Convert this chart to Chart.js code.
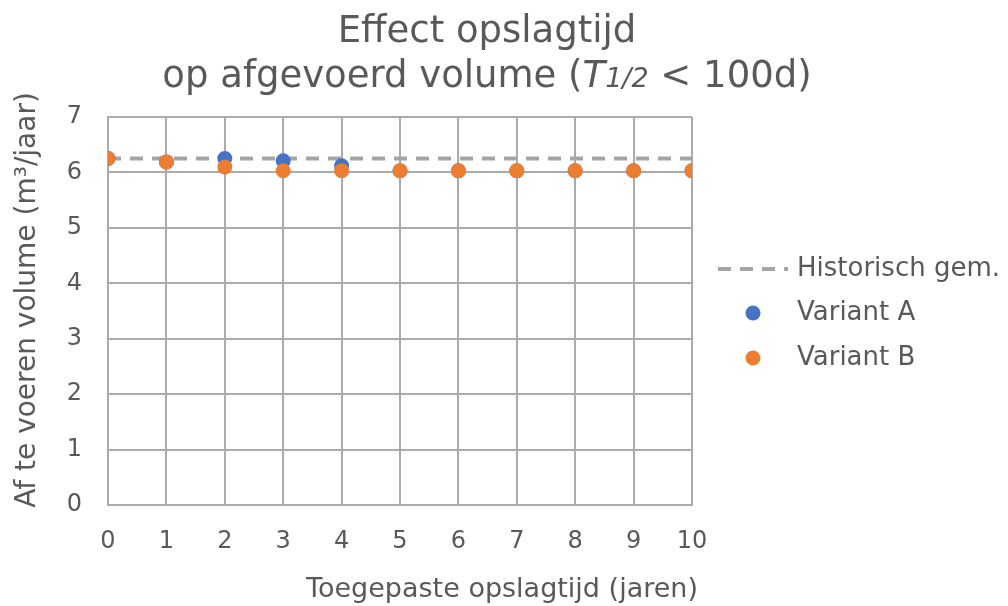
<!DOCTYPE html>
<html>
<head>
<meta charset="utf-8">
<script src="https://cdn.jsdelivr.net/npm/chart.js@4.4.1/dist/chart.umd.min.js"></script>
<style>
    html, body { margin: 0; padding: 0; background: #ffffff; }
    #wrap { width: 1008px; height: 606px; position: relative; }
</style>
</head>
<body>
<div id="wrap"><canvas id="chart"></canvas></div>
<script>
// Gegevens
const opslagtijd = [0, 1, 2, 3, 4, 5, 6, 7, 8, 9, 10];
const variantA = [6.25, 6.19, 6.25, 6.21, 6.12, 6.03, 6.03, 6.03, 6.03, 6.03, 6.03];
const variantB = [6.25, 6.19, 6.10, 6.03, 6.03, 6.03, 6.03, 6.03, 6.03, 6.03, 6.03];
const historischGem = 6.25;
const xBereik = [0, 10];
const yBereik = [0, 7];

const titelRegel1 = 'Effect opslagtijd';
const titelRegel2 = [
    { text: 'op afgevoerd volume (' },
    { text: 'T', italic: true },
    { text: '1/2', italic: true, klein: true },
    { text: ' < 100d)' }
];
const xTitel = 'Toegepaste opslagtijd (jaren)';
const yTitel = 'Af te voeren volume (m³/jaar)';

// Kleuren
const tekstKleur = '#595959';
const rasterKleur = '#ABABAB';
const blauw = '#4472C4';
const oranje = '#ED7D31';
const grijs = '#A5A5A5';
const lettertype = '"DejaVu Sans", Verdana, sans-serif';

// Titel, astitels en legenda zelf tekenen
const tekstPlugin = {
    id: 'tekst',
    afterDraw(chart) {
        const ctx = chart.ctx;
        ctx.save();
        ctx.fillStyle = tekstKleur;

        // titel regel 1
        ctx.textAlign = 'center';
        ctx.textBaseline = 'alphabetic';
        ctx.font = '37px ' + lettertype;
        ctx.fillText(titelRegel1, 487, 42);

        // titel regel 2 met cursief stuk
        const delen = titelRegel2.map(d => ({
            text: d.text,
            font: (d.italic ? 'italic ' : '') + (d.klein ? '27px ' : '37px ') + lettertype
        }));
        let totaal = 0;
        delen.forEach(d => {
            ctx.font = d.font;
            d.w = ctx.measureText(d.text).width;
            totaal += d.w;
        });
        let x = 487 - totaal / 2;
        ctx.textAlign = 'left';
        delen.forEach(d => {
            ctx.font = d.font;
            ctx.fillText(d.text, x, 87);
            x += d.w;
        });

        // x-as titel
        ctx.textAlign = 'center';
        ctx.font = '27px ' + lettertype;
        ctx.fillText(xTitel, 502, 597);

        // y-as titel
        ctx.save();
        ctx.font = '28px ' + lettertype;
        ctx.translate(35, 300);
        ctx.rotate(-Math.PI / 2);
        ctx.fillText(yTitel, 0, 0);
        ctx.restore();

        // legenda
        const legY = [269, 313, 358];
        ctx.font = '26px ' + lettertype;
        ctx.textAlign = 'left';
        ctx.textBaseline = 'middle';
        chart.data.datasets.forEach((ds, i) => {
            const y = legY[i];
            if (ds.showLine) {
                ctx.save();
                ctx.strokeStyle = ds.borderColor;
                ctx.lineWidth = ds.borderWidth;
                ctx.setLineDash(ds.borderDash);
                ctx.beginPath();
                ctx.moveTo(718, y);
                ctx.lineTo(788, y);
                ctx.stroke();
                ctx.restore();
            } else {
                ctx.beginPath();
                ctx.fillStyle = ds.backgroundColor;
                ctx.arc(753, y, 7.5, 0, Math.PI * 2);
                ctx.fill();
            }
            ctx.fillStyle = tekstKleur;
            ctx.fillText(ds.label, 797, y);
        });
        ctx.restore();
    }
};

const ctx = document.getElementById('chart').getContext('2d');
const grafiek = new Chart(ctx, {
    type: 'scatter',
    data: {
        datasets: [
            {
                label: 'Historisch gem.',
                data: xBereik.map(x => ({ x: x, y: historischGem })),
                showLine: true,
                borderColor: grijs,
                borderWidth: 4,
                borderDash: [13, 9],
                pointRadius: 0,
                order: 2
            },
            {
                label: 'Variant A',
                data: opslagtijd.map((x, i) => ({ x: x, y: variantA[i] })),
                backgroundColor: blauw,
                borderColor: blauw,
                borderWidth: 0,
                pointRadius: 7.5,
                order: 1
            },
            {
                label: 'Variant B',
                data: opslagtijd.map((x, i) => ({ x: x, y: variantB[i] })),
                backgroundColor: oranje,
                borderColor: oranje,
                borderWidth: 0,
                pointRadius: 7.5,
                order: 0
            }
        ]
    },
    options: {
        responsive: true,
        maintainAspectRatio: false,
        animation: false,
        layout: { padding: { top: 117, right: 316, left: 0, bottom: 0 } },
        plugins: {
            legend: { display: false },
            title: { display: false },
            tooltip: { enabled: false }
        },
        scales: {
            x: {
                type: 'linear',
                min: xBereik[0],
                max: xBereik[1],
                afterFit: s => { s.height = 101; },
                ticks: { stepSize: 1, padding: 22, color: tekstKleur, font: { family: lettertype, size: 24 } },
                grid: { color: rasterKleur, lineWidth: 2, drawTicks: false },
                border: { color: rasterKleur, width: 2 }
            },
            y: {
                type: 'linear',
                min: yBereik[0],
                max: yBereik[1],
                afterFit: s => { s.width = 108; },
                ticks: { stepSize: 1, padding: 26, color: tekstKleur, font: { family: lettertype, size: 24 } },
                grid: { color: rasterKleur, lineWidth: 2, drawTicks: false },
                border: { color: rasterKleur, width: 2 }
            }
        }
    },
    plugins: [tekstPlugin]
});
</script>
</body>
</html>
